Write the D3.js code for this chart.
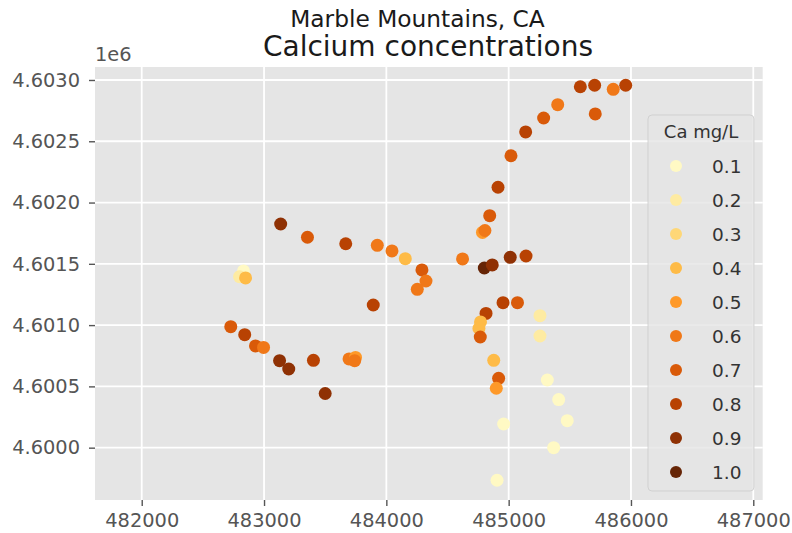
<!DOCTYPE html>
<html>
<head>
<meta charset="utf-8">
<script src="https://cdn.jsdelivr.net/npm/d3@7"></script>
<style>
  html, body { margin: 0; padding: 0; background: #ffffff; }
  svg { display: block; font-family: "DejaVu Sans", sans-serif; }
</style>
</head>
<body>
<svg id="chart" width="792" height="533"></svg>
<script>
// Sample sites: UTM easting / northing (m) and calcium concentration (mg/L)
const easting = [
  485586, 485703, 485855, 485957, 485708, 485401, 485286, 485139, 485019, 484913,
  484845, 484786, 484806,
  483136, 483355, 483668, 483926, 484046, 484155, 484291, 484324, 484253, 483893, 484623,
  484801, 484866, 485013, 485142,
  482832, 482800, 482849, 482728, 482842, 482930, 482996, 483127, 483202, 483404,
  483695, 483748, 483741, 483500,
  484954, 485072, 484815, 484770, 484757, 484768, 484878, 484918, 484899, 484959,
  484905, 485256, 485256, 485316, 485409, 485479, 485368
];
const northing = [
  4602945, 4602957, 4602924, 4602957, 4602723, 4602799, 4602690, 4602576, 4602382, 4602125,
  4601893, 4601756, 4601772,
  4601825, 4601717, 4601664, 4601651, 4601605, 4601542, 4601450, 4601360, 4601292, 4601164, 4601540,
  4601466, 4601491, 4601553, 4601564,
  4601442, 4601395, 4601385, 4600987, 4600922, 4600830, 4600818, 4600710, 4600642, 4600713,
  4600724, 4600736, 4600710, 4600442,
  4601183, 4601183, 4601095, 4601026, 4600973, 4600903, 4600713, 4600566, 4600485, 4600193,
  4599734, 4601077, 4600911, 4600552, 4600392, 4600220, 4600000
];
const calcium = [
  0.8, 0.8, 0.6, 0.8, 0.7, 0.6, 0.7, 0.8, 0.7, 0.8,
  0.7, 0.5, 0.6,
  0.9, 0.7, 0.8, 0.6, 0.6, 0.4, 0.7, 0.6, 0.6, 0.8, 0.6,
  1.0, 0.9, 0.9, 0.8,
  0.1, 0.2, 0.4, 0.7, 0.8, 0.7, 0.6, 0.9, 0.9, 0.8,
  0.6, 0.5, 0.6, 0.9,
  0.8, 0.7, 0.8, 0.4, 0.4, 0.7, 0.4, 0.7, 0.5, 0.1,
  0.1, 0.2, 0.2, 0.1, 0.1, 0.1, 0.1
];
const xTicks = [482000, 483000, 484000, 485000, 486000, 487000];
const yTicks = [4600000, 4600500, 4601000, 4601500, 4602000, 4602500, 4603000];
const legendLevels = [0.1, 0.2, 0.3, 0.4, 0.5, 0.6, 0.7, 0.8, 0.9, 1.0];
const ylOrBr = ["#ffffe5", "#fff7bc", "#fee391", "#fec44f", "#fe9929", "#ec7014", "#cc4c02", "#993404", "#662506"];

const sites = easting.map((e, i) => ({ e, n: northing[i], ca: calcium[i] }));

const svg = d3.select("#chart");
const plot = { left: 95, right: 762.7, top: 67, bottom: 500 };

const x = d3.scaleLinear().domain([481618, 487077]).range([plot.left, plot.right]);
const y = d3.scaleLinear().domain([4599573, 4603106]).range([plot.bottom, plot.top]);

// YlOrBr colormap, linear between the nine stops, over concentrations 0–1 mg/L
const cmap = d3.scaleLinear()
  .domain(d3.range(ylOrBr.length).map(k => k / (ylOrBr.length - 1)))
  .range(ylOrBr)
  .interpolate(d3.interpolateRgb)
  .clamp(true);
const color = v => cmap(v);

// Axes background
svg.append("rect")
  .attr("x", plot.left).attr("y", plot.top)
  .attr("width", plot.right - plot.left).attr("height", plot.bottom - plot.top)
  .attr("fill", "#e5e5e5");

// Grid
const grid = svg.append("g").attr("stroke", "#ffffff").attr("stroke-width", 1.8);
grid.selectAll("line.gx").data(xTicks).join("line")
  .attr("x1", d => x(d)).attr("x2", d => x(d))
  .attr("y1", plot.top).attr("y2", plot.bottom);
grid.selectAll("line.gy").data(yTicks).join("line")
  .attr("y1", d => y(d)).attr("y2", d => y(d))
  .attr("x1", plot.left).attr("x2", plot.right);

// X axis
const xAxis = d3.axisBottom(x).tickValues(xTicks).tickSize(6).tickPadding(7)
  .tickFormat(d3.format("d"));
const gx = svg.append("g").attr("transform", `translate(0,${plot.bottom})`).call(xAxis);
gx.select(".domain").remove();
gx.selectAll(".tick line").attr("stroke", "#555555").attr("stroke-width", 1.4);
gx.selectAll(".tick text").attr("fill", "#555555").attr("font-size", 19.4)
  .attr("font-family", "DejaVu Sans, sans-serif");

// Y axis
const yAxis = d3.axisLeft(y).tickValues(yTicks).tickSize(6).tickPadding(9)
  .tickFormat(d => (d / 1e6).toFixed(4));
const gy = svg.append("g").attr("transform", `translate(${plot.left},0)`).call(yAxis);
gy.select(".domain").remove();
gy.selectAll(".tick line").attr("stroke", "#555555").attr("stroke-width", 1.4);
gy.selectAll(".tick text").attr("fill", "#555555").attr("font-size", 19.4)
  .attr("font-family", "DejaVu Sans, sans-serif");

// Offset text for the northing axis
svg.append("text").attr("x", plot.left).attr("y", 61)
  .attr("fill", "#555555").attr("font-size", 19.4).text("1e6");

// Scatter
svg.append("g").selectAll("circle").data(sites).join("circle")
  .attr("cx", d => x(d.e)).attr("cy", d => y(d.n))
  .attr("r", 6.5)
  .attr("fill", d => color(d.ca));

// Titles
svg.append("text").attr("x", 417.5).attr("y", 27).attr("text-anchor", "middle")
  .attr("font-size", 23.3).attr("fill", "#1a1a1a").text("Marble Mountains, CA");
svg.append("text").attr("x", 428).attr("y", 55.5).attr("text-anchor", "middle")
  .attr("font-size", 28).attr("fill", "#1a1a1a").text("Calcium concentrations");

// Legend
const lg = svg.append("g");
lg.append("rect")
  .attr("x", 648).attr("y", 115).attr("width", 106).attr("height", 376).attr("rx", 4)
  .attr("fill", "#e5e5e5").attr("fill-opacity", 0.8)
  .attr("stroke", "#cccccc").attr("stroke-opacity", 0.8).attr("stroke-width", 1);
lg.append("text").attr("x", 701).attr("y", 138).attr("text-anchor", "middle")
  .attr("font-size", 18).attr("fill", "#333333").text("Ca mg/L");
const ly = d3.scalePoint().domain(legendLevels).range([166, 472]);
const entry = lg.selectAll("g.entry").data(legendLevels).join("g")
  .attr("transform", d => `translate(0,${ly(d)})`);
entry.append("circle").attr("cx", 676).attr("cy", 0).attr("r", 6)
  .attr("fill", d => color(d));
entry.append("text").attr("x", 712).attr("y", 7)
  .attr("font-size", 18.5).attr("fill", "#333333")
  .text(d => d.toFixed(1));
</script>
</body>
</html>
